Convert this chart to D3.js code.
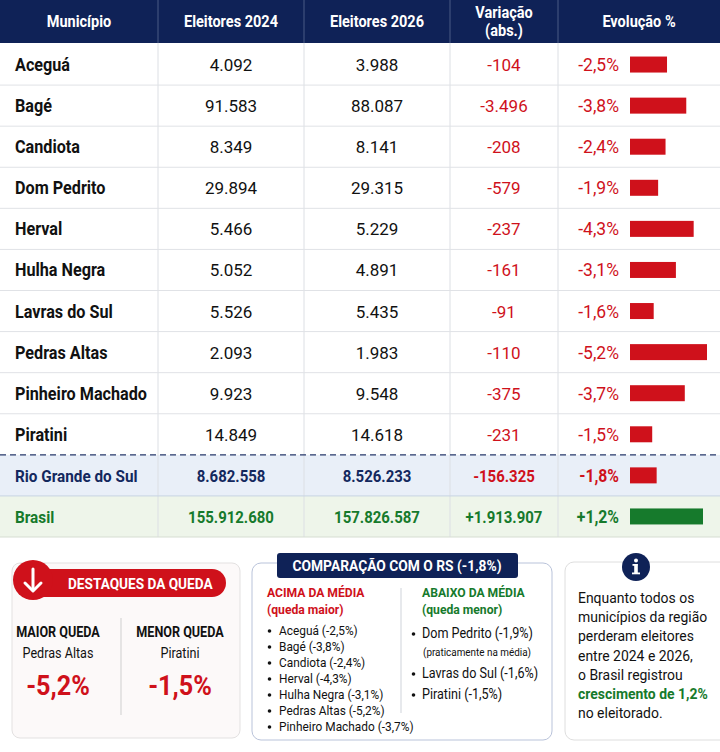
<!DOCTYPE html>
<html><head><meta charset="utf-8">
<script src="https://cdn.jsdelivr.net/npm/d3@7"></script>
<style>
html,body{margin:0;padding:0;background:#fff;}
svg{display:block;font-family:Roboto,"Noto Sans",sans-serif;}
</style></head>
<body><svg id="c" width="720" height="752"></svg>
<script>
// ---- data ----
const municipios = ["Aceguá","Bagé","Candiota","Dom Pedrito","Herval","Hulha Negra","Lavras do Sul","Pedras Altas","Pinheiro Machado","Piratini","Rio Grande do Sul","Brasil"];
const eleitores2024 = [4092,91583,8349,29894,5466,5052,5526,2093,9923,14849,8682558,155912680];
const eleitores2026 = [3988,88087,8141,29315,5229,4891,5435,1983,9548,14618,8526233,157826587];
const variacao = [-104,-3496,-208,-579,-237,-161,-91,-110,-375,-231,-156325,1913907];
const evolucao = [-2.5,-3.8,-2.4,-1.9,-4.3,-3.1,-1.6,-5.2,-3.7,-1.5,-1.8,1.2];
const colunas = ["Município","Eleitores 2024","Eleitores 2026","Variação|(abs.)","Evolução %"];
const acimaMedia = ["Aceguá (-2,5%)","Bagé (-3,8%)","Candiota (-2,4%)","Herval (-4,3%)","Hulha Negra (-3,1%)","Pedras Altas (-5,2%)","Pinheiro Machado (-3,7%)"];
const abaixoMedia = ["Dom Pedrito (-1,9%)","Lavras do Sul (-1,6%)","Piratini (-1,5%)"];
const infoLines = ["Enquanto todos os","municípios da região","perderam eleitores","entre 2024 e 2026,","o Brasil registrou","crescimento de 1,2%","no eleitorado."];

const loc = d3.formatLocale({decimal:",",thousands:".",grouping:[3],currency:["R$",""],minus:"-"});
const fInt = loc.format(",d");
const fVar = v => (v>0?"+":"") + fInt(v);
const fPct = v => (v>0?"+":"") + loc.format(".1f")(v) + "%";

const RED="#cf111b", GREEN="#167a2c", NAVY="#13285e", DARK="#111";
const svg = d3.select("#c");

// condensed text helper
function T(parent, x, y, str, o={}){
  const t = parent.append("text")
    .attr("transform",`translate(${x},${y}) scale(${o.sx||1},1)`)
    .attr("text-anchor",o.anchor||"start")
    .attr("font-size",o.size||14)
    .attr("font-weight",o.bold?"bold":"normal")
    .attr("fill",o.fill||DARK)
    .text(str);
  return t;
}

const colEdges = [0,158,304,450,558,720];
const headerH = 43;
const y = d3.scaleBand().domain(municipios).range([44,537]);
const barX = d3.scaleLinear().domain([0,5.2]).range([0,77]);      // queda
const barXPos = d3.scaleLinear().domain([0,1.2]).range([0,73]);   // crescimento
const barStart = 630;

// header
svg.append("rect").attr("x",0).attr("y",0).attr("width",720).attr("height",headerH).attr("fill","#0f2257");
colunas.forEach((c,i)=>{
  const cx=(colEdges[i]+colEdges[i+1])/2;
  const parts=c.split("|");
  if(parts.length===1) T(svg,cx,27,c,{anchor:"middle",size:16.5,bold:true,fill:"#fff",sx:0.88});
  else parts.forEach((p,k)=>T(svg,cx,18+k*18,p,{anchor:"middle",size:16.5,bold:true,fill:"#fff",sx:0.88}));
  if(i>0) svg.append("line").attr("x1",colEdges[i]).attr("x2",colEdges[i]).attr("y1",0).attr("y2",headerH).attr("stroke","#4a5a85").attr("stroke-width",1);
});

// row backgrounds
const rowBg = (i)=> i===10?"#e9eff8": i===11?"#eef5ea":"#fff";
municipios.forEach((m,i)=>{
  svg.append("rect").attr("x",0).attr("y",y(m)).attr("width",720).attr("height",y.bandwidth()).attr("fill",rowBg(i));
});
colEdges.slice(1,5).forEach(xx=>{
  svg.append("line").attr("x1",xx).attr("x2",xx).attr("y1",headerH).attr("y2",537).attr("stroke","#dcdfe4");
});
municipios.forEach((m,i)=>{
  if(i===0) return;
  const yy=y(m);
  if(i===10){
    svg.append("line").attr("x1",0).attr("x2",720).attr("y1",yy).attr("y2",yy).attr("stroke","#27386b").attr("stroke-width",1.2).attr("stroke-dasharray","6,4");
  } else {
    svg.append("line").attr("x1",0).attr("x2",720).attr("y1",yy).attr("y2",yy).attr("stroke", i===11?"#c7d3e3":"#e0e2e6");
  }
});
svg.append("line").attr("x1",0).attr("x2",720).attr("y1",537).attr("y2",537).attr("stroke","#d6ddd2");

// cells
municipios.forEach((m,i)=>{
  const cy=y(m)+y.bandwidth()/2+6.5;
  const special=i>=10;
  const nameCol = i===10?NAVY:i===11?GREEN:DARK;
  T(svg,15,cy,m,{size:special?17:18,bold:true,fill:nameCol,sx:0.9});
  [eleitores2024[i],eleitores2026[i]].forEach((v,k)=>{
    T(svg,(colEdges[k+1]+colEdges[k+2])/2,cy,fInt(v),{anchor:"middle",size:17,bold:special,fill:nameCol,sx:special?0.88:1});
  });
  const vc = variacao[i]>0?GREEN:RED;
  T(svg,(colEdges[3]+colEdges[4])/2,cy,fVar(variacao[i]),{anchor:"middle",size:17,bold:special,fill:vc,sx:special?0.88:1});
  T(svg,619,cy,fPct(evolucao[i]),{anchor:"end",size:17.5,bold:special,fill:vc,sx:special?0.9:1});
  const w = evolucao[i]>0 ? barXPos(evolucao[i]) : barX(-evolucao[i]);
  svg.append("rect").attr("x",barStart).attr("y",y(m)+y.bandwidth()/2-8).attr("height",16)
    .attr("width",w).attr("fill",evolucao[i]>0?GREEN:RED);
});

// ---- Panel 1: destaques ----
const p1=svg.append("g");
p1.append("rect").attr("x",12).attr("y",563).attr("width",228).attr("height",175).attr("rx",8).attr("fill","#fcf9f9").attr("stroke","#e3e1e1");
p1.append("rect").attr("x",20).attr("y",569).attr("width",206).attr("height",28).attr("rx",14).attr("fill",RED);
p1.append("circle").attr("cx",33).attr("cy",580).attr("r",20).attr("fill",RED);
p1.append("line").attr("x1",33).attr("x2",33).attr("y1",569).attr("y2",590).attr("stroke","#fff").attr("stroke-width",3).attr("stroke-linecap","round");
p1.append("path").attr("d","M25,583 L33,591 L41,583").attr("fill","none").attr("stroke","#fff").attr("stroke-width",3).attr("stroke-linecap","round").attr("stroke-linejoin","round");
T(p1,68,589,"DESTAQUES DA QUEDA",{size:15.5,bold:true,fill:"#fff",sx:0.88});
p1.append("line").attr("x1",121).attr("x2",121).attr("y1",618).attr("y2",715).attr("stroke","#cfcfcf");
const maior = evolucao.slice(0,10).indexOf(d3.min(evolucao.slice(0,10)));
const menor = evolucao.slice(0,10).indexOf(d3.max(evolucao.slice(0,10)));
[["MAIOR QUEDA",maior,58],["MENOR QUEDA",menor,180]].forEach(([lab,idx,cx])=>{
  T(p1,cx,637,lab,{anchor:"middle",size:14,bold:true,sx:0.9});
  T(p1,cx,658,municipios[idx],{anchor:"middle",size:14,sx:0.9});
  T(p1,cx,695,fPct(evolucao[idx]),{anchor:"middle",size:28,bold:true,fill:RED,sx:0.9});
});

// ---- Panel 2: comparação ----
const p2=svg.append("g");
p2.append("rect").attr("x",252).attr("y",563).attr("width",300).attr("height",177).attr("rx",9).attr("fill","#fff").attr("stroke","#b9c3da");
p2.append("rect").attr("x",277).attr("y",553).attr("width",241).attr("height",25).attr("rx",3).attr("fill","#0f2257");
T(p2,397,571,"COMPARAÇÃO COM O RS (" + fPct(evolucao[10]) + ")",{anchor:"middle",size:15,bold:true,fill:"#fff",sx:0.92});
p2.append("line").attr("x1",401).attr("x2",401).attr("y1",588).attr("y2",713).attr("stroke","#cfd3da");
T(p2,267,597,"ACIMA DA MÉDIA",{size:13.5,bold:true,fill:RED,sx:0.9});
T(p2,267,614,"(queda maior)",{size:13.5,bold:true,fill:RED,sx:0.9});
acimaMedia.forEach((s,k)=>{
  const yy=635+k*16;
  p2.append("circle").attr("cx",269.5).attr("cy",yy-4).attr("r",1.8).attr("fill",DARK);
  T(p2,279,yy,s,{size:13.2,sx:0.9});
});
T(p2,422,597,"ABAIXO DA MÉDIA",{size:13.5,bold:true,fill:GREEN,sx:0.9});
T(p2,422,614,"(queda menor)",{size:13.5,bold:true,fill:GREEN,sx:0.9});
const abY=[638,678,699];
abaixoMedia.forEach((s,k)=>{
  p2.append("circle").attr("cx",413.5).attr("cy",abY[k]-4).attr("r",1.8).attr("fill",DARK);
  T(p2,422,abY[k],s,{size:14,sx:0.9});
});
T(p2,423,656,"(praticamente na média)",{size:11,sx:0.9});

// ---- Panel 3: info ----
const p3=svg.append("g");
p3.append("rect").attr("x",565).attr("y",562).attr("width",165).attr("height",178).attr("rx",9).attr("fill","#fff").attr("stroke","#dedede");
p3.append("circle").attr("cx",636).attr("cy",567).attr("r",14).attr("fill","#0f2257");
p3.append("circle").attr("cx",636).attr("cy",560.5).attr("r",2).attr("fill","#fff");
p3.append("rect").attr("x",634.2).attr("y",564).attr("width",3.6).attr("height",10).attr("fill","#fff");
p3.append("rect").attr("x",632.5).attr("y",564).attr("width",5).attr("height",1.8).attr("fill","#fff");
p3.append("rect").attr("x",632).attr("y",572.5).attr("width",8).attr("height",1.8).attr("fill","#fff");
infoLines.forEach((s,k)=>{
  const g = k===5;
  T(p3,578,603+k*19.2,s,{size:15.5,bold:g,fill:g?GREEN:DARK,sx:0.9});
});
</script></body></html>
